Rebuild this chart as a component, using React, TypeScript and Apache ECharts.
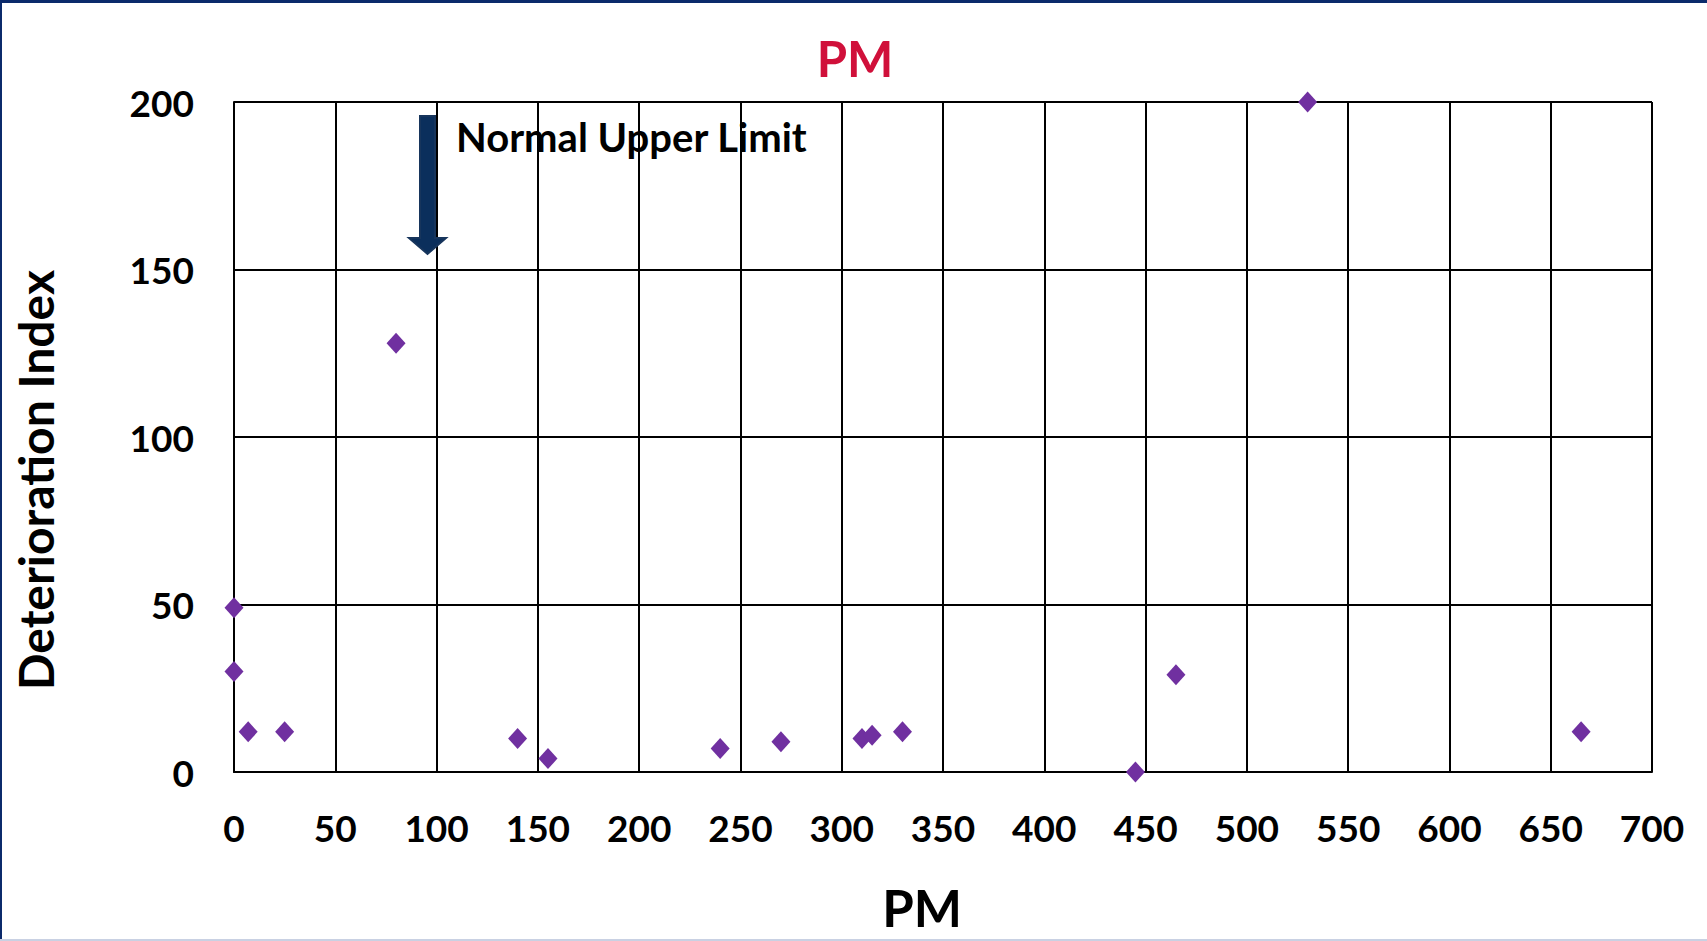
import React, { useEffect, useRef } from "react";
import * as echarts from "echarts";

const pmValues: number[] = [0, 0, 7, 25, 80, 140, 155, 240, 270, 310, 315, 330, 445, 465, 530, 665];
const deteriorationIndex: number[] = [49, 30, 12, 12, 128, 10, 4, 7, 9, 10, 11, 12, 0, 29, 200, 12];
const xTicks = { min: 0, max: 700, interval: 50 };
const yTicks = { min: 0, max: 200, interval: 50 };
const titleText = "PM";
const xAxisName = "PM";
const yAxisName = "Deterioration Index";
const annotationText = "Normal Upper Limit";

const FONT = "Lato, 'Open Sans', sans-serif";

export default function App() {
  const ref = useRef<HTMLDivElement>(null);
  useEffect(() => {
    document.body.style.margin = "0";
    const chart = echarts.init(ref.current!, null, { renderer: "svg" });
    const points = pmValues.map((x, i) => [x, deteriorationIndex[i]]);
    chart.setOption({
      animation: false,
      backgroundColor: "#ffffff",
      title: {
        text: titleText,
        left: 850,
        top: 28,
        textAlign: "center",
        textStyle: { color: "#D0103A", fontSize: 49, fontWeight: "bold", fontFamily: FONT },
      },
      grid: { left: 234, top: 102, right: 55, bottom: 169, containLabel: false },
      xAxis: {
        type: "value",
        min: xTicks.min,
        max: xTicks.max,
        interval: xTicks.interval,
        name: xAxisName,
        nameLocation: "middle",
        nameGap: 110,
        nameTextStyle: { color: "#000", fontSize: 51, fontWeight: "bold", fontFamily: FONT, padding: [0, 42, 0, 0] },
        axisLine: { show: true, lineStyle: { color: "#000", width: 2 } },
        axisTick: { show: false },
        splitLine: { show: true, lineStyle: { color: "#000", width: 2 } },
        axisLabel: { color: "#000", fontSize: 37, fontWeight: "bold", fontFamily: FONT, margin: 37 },
      },
      yAxis: {
        type: "value",
        min: yTicks.min,
        max: yTicks.max,
        interval: yTicks.interval,
        name: yAxisName,
        nameLocation: "middle",
        nameGap: 175,
        nameRotate: 90,
        nameTextStyle: { color: "#000", fontSize: 48, fontWeight: "bold", fontFamily: FONT, padding: [0, 86, 0, 0] },
        axisLine: { show: true, lineStyle: { color: "#000", width: 2 } },
        axisTick: { show: false },
        splitLine: { show: true, lineStyle: { color: "#000", width: 2 } },
        axisLabel: { color: "#000", fontSize: 37, fontWeight: "bold", fontFamily: FONT, margin: 40 },
      },
      series: [
        {
          type: "scatter",
          data: points,
          symbol: "diamond",
          symbolSize: [19, 21],
          clip: false,
          itemStyle: { color: "#7030A0", opacity: 1 },
          z: 5,
        },
      ],
      graphic: [
        { type: "rect", shape: { x: 0, y: 0, width: 1707, height: 3 }, style: { fill: "#0B2A6B" }, silent: true },
        { type: "rect", shape: { x: 0, y: 0, width: 2, height: 941 }, style: { fill: "#0B2A6B" }, silent: true },
        { type: "rect", shape: { x: 0, y: 939, width: 1707, height: 2 }, style: { fill: "#C9D1E3" }, silent: true },
        {
          type: "polygon",
          shape: {
            points: [
              [420, 116], [435, 116], [435, 238], [446, 238], [427.5, 254], [409, 238], [420, 238],
            ],
          },
          style: { fill: "#0B2F5C", stroke: "#17355C", lineWidth: 2 },
          z: 10,
        },
        {
          type: "text",
          left: 456,
          top: 117,
          style: { text: annotationText, fill: "#000", font: `bold 40px ${FONT}` },
          z: 10,
        },
      ],
    });
    return () => chart.dispose();
  }, []);
  return <div ref={ref} style={{ position: "absolute", left: 0, top: 0, width: 1707, height: 941 }} />;
}
